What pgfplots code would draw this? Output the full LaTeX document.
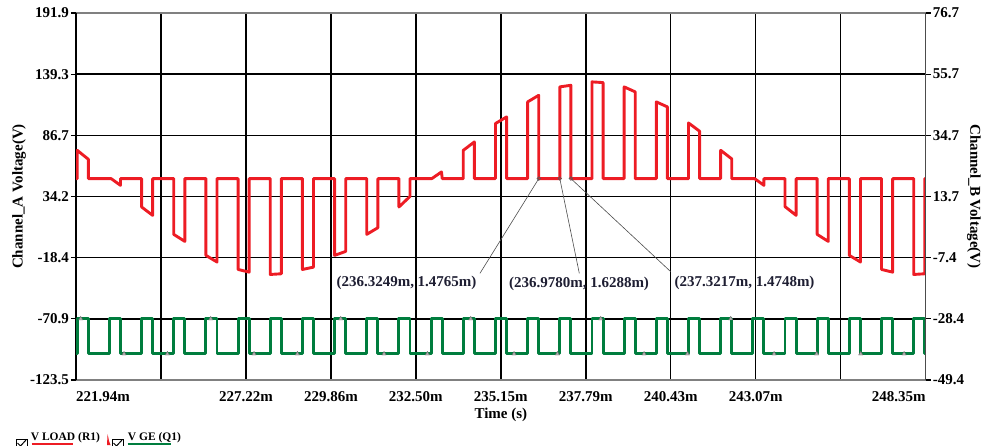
\documentclass[border=0pt]{standalone}
\usepackage{pgfplots}
\pgfplotsset{compat=1.18}
\usepackage{fontspec}
\setmainfont{Liberation Serif}
\definecolor{trred}{RGB}{237,28,36}
\definecolor{trgreen}{RGB}{0,125,62}
\definecolor{anno}{RGB}{30,30,50}
\newcommand{\lab}{\bfseries\fontsize{15}{18}\selectfont}
\newcommand{\leg}{\bfseries\fontsize{11.5}{13}\selectfont}
\begin{document}
\begin{tikzpicture}
\useasboundingbox (0,0) rectangle (982pt,445pt);
\begin{axis}[
  at={(76pt,65pt)}, anchor=south west,
  scale only axis, width=849.67pt, height=367pt,
  xmin=221.94, xmax=248.35, ymin=-123.5, ymax=191.9,
  separate axis lines,
  x axis line style={draw=gray, line width=1.6pt},
  y axis line style={draw=black, line width=1.5pt},
  grid=major, grid style={black, line width=1.4pt},
  xtick={221.94,224.581,227.222,229.863,232.504,235.145,237.786,240.427,243.068,245.709,248.35},
  xticklabels={{\makebox[0pt][l]{221.94m}},{},227.22m,229.86m,232.50m,235.15m,237.79m,240.43m,243.07m,{},{\makebox[0pt][r]{248.35m}}},
  ytick={-123.5,-70.933,-18.367,34.2,86.767,139.333,191.9},
  yticklabels={-123.5,-70.9,-18.4,34.2,86.7,139.3,191.9},
  xtick pos=bottom, ytick pos=left,
  tick align=outside, major tick length=5pt,
  xtick style={draw=none},
  ytick style={black, line width=1.2pt},
  tick label style={font=\lab, text=black},
  yticklabel style={inner sep=2pt},
  xticklabel style={inner sep=0pt, yshift=-6pt},
  xlabel={Time (s)}, ylabel={Channel\_A Voltage(V)},
  xlabel style={font=\lab, at={(axis description cs:0.5,-0.0954)}, anchor=center},
  ylabel style={font=\lab, at={(axis description cs:-0.0671,0.5)}, anchor=center},
]
% V GE (Q1)
\addplot[trgreen, line width=2.9pt, line join=round] coordinates {
(221.94,-101)
(221.978,-101)(221.978,-70.9)(222.323,-70.9)(222.323,-101)
(222.978,-101)(222.978,-70.9)(223.323,-70.9)(223.323,-101)
(223.978,-101)(223.978,-70.9)(224.323,-70.9)(224.323,-101)
(224.978,-101)(224.978,-70.9)(225.323,-70.9)(225.323,-101)
(225.978,-101)(225.978,-70.9)(226.323,-70.9)(226.323,-101)
(226.978,-101)(226.978,-70.9)(227.323,-70.9)(227.323,-101)
(227.978,-101)(227.978,-70.9)(228.323,-70.9)(228.323,-101)
(228.978,-101)(228.978,-70.9)(229.323,-70.9)(229.323,-101)
(229.978,-101)(229.978,-70.9)(230.323,-70.9)(230.323,-101)
(230.978,-101)(230.978,-70.9)(231.323,-70.9)(231.323,-101)
(231.978,-101)(231.978,-70.9)(232.323,-70.9)(232.323,-101)
(232.978,-101)(232.978,-70.9)(233.323,-70.9)(233.323,-101)
(233.978,-101)(233.978,-70.9)(234.323,-70.9)(234.323,-101)
(234.978,-101)(234.978,-70.9)(235.323,-70.9)(235.323,-101)
(235.978,-101)(235.978,-70.9)(236.323,-70.9)(236.323,-101)
(236.978,-101)(236.978,-70.9)(237.323,-70.9)(237.323,-101)
(237.978,-101)(237.978,-70.9)(238.323,-70.9)(238.323,-101)
(238.978,-101)(238.978,-70.9)(239.323,-70.9)(239.323,-101)
(239.978,-101)(239.978,-70.9)(240.323,-70.9)(240.323,-101)
(240.978,-101)(240.978,-70.9)(241.323,-70.9)(241.323,-101)
(241.978,-101)(241.978,-70.9)(242.323,-70.9)(242.323,-101)
(242.978,-101)(242.978,-70.9)(243.323,-70.9)(243.323,-101)
(243.978,-101)(243.978,-70.9)(244.323,-70.9)(244.323,-101)
(244.978,-101)(244.978,-70.9)(245.323,-70.9)(245.323,-101)
(245.978,-101)(245.978,-70.9)(246.323,-70.9)(246.323,-101)
(246.978,-101)(246.978,-70.9)(247.323,-70.9)(247.323,-101)
(247.978,-101)(247.978,-70.9)(248.323,-70.9)(248.323,-101)
(248.35,-101)
};
% sample markers on V GE
\addplot[only marks, mark=triangle*, mark size=2.4pt, draw=gray!80!black, fill=gray!60] coordinates {
(222.086,-70.9)(223.433,-101)(224.780,-101)(226.127,-70.9)(227.474,-101)
(228.821,-101)(230.168,-70.9)(231.515,-101)(232.862,-101)(234.209,-70.9)
(235.556,-101)(236.903,-101)(238.250,-70.9)(239.597,-101)(240.944,-101)
(242.291,-70.9)(243.638,-101)(244.960,-101)(246.332,-101)(247.679,-101)
};
% V LOAD (R1)
\addplot[trred, line width=2.9pt, line join=round] coordinates {
(221.94,49.6)
(221.978,49.6)(221.978,73.9)(222.323,66.2)(222.323,49.6)
(223.03,49.6)(223.323,43.8)(223.323,49.6)
(223.978,49.6)(223.978,25.2)(224.323,18.0)(224.323,49.6)
(224.978,49.6)(224.978,1.65)(225.323,-4.4)(225.323,49.6)
(225.978,49.6)(225.978,-16.4)(226.323,-22.1)(226.323,49.6)
(226.978,49.6)(226.978,-28.5)(227.323,-30.8)(227.323,49.6)
(227.978,49.6)(227.978,-32.8)(228.323,-32.2)(228.323,49.6)
(228.978,49.6)(228.978,-28.5)(229.323,-26.5)(229.323,49.6)
(229.978,49.6)(229.978,-16.4)(230.323,-13.0)(230.323,49.6)
(230.978,49.6)(230.978,1.65)(231.323,7.4)(231.323,49.6)
(231.978,49.6)(231.978,25.2)(232.323,34.3)(232.323,49.6)
(233.00,49.6)(233.30,55.3)(233.323,49.6)
(233.978,49.6)(233.978,73.9)(234.323,81.1)(234.323,49.6)
(234.978,49.6)(234.978,96.9)(235.323,102.6)(235.323,49.6)
(235.978,49.6)(235.978,115.5)(236.323,121.2)(236.323,49.6)
(236.978,49.6)(236.978,128.4)(237.323,129.8)(237.323,49.6)
(237.978,49.6)(237.978,132.7)(238.323,132.1)(238.323,49.6)
(238.978,49.6)(238.978,128.4)(239.323,124.1)(239.323,49.6)
(239.978,49.6)(239.978,115.5)(240.323,111.2)(240.323,49.6)
(240.978,49.6)(240.978,97.4)(241.323,90.3)(241.323,49.6)
(241.978,49.6)(241.978,73.9)(242.323,66.5)(242.323,49.6)
(243.03,49.6)(243.323,43.8)(243.323,49.6)
(243.978,49.6)(243.978,25.5)(244.323,18.0)(244.323,49.6)
(244.978,49.6)(244.978,1.65)(245.323,-4.4)(245.323,49.6)
(245.978,49.6)(245.978,-16.4)(246.323,-22.1)(246.323,49.6)
(246.978,49.6)(246.978,-28.5)(247.323,-30.8)(247.323,49.6)
(247.978,49.6)(247.978,-32.8)(248.323,-32.2)(248.323,49.6)
(248.35,49.6)
};
% cursor points
\addplot[only marks, mark=o, mark size=1.8pt, gray!70!black, line width=0.6pt] coordinates {
(236.3249,49.6)(236.9780,49.6)(237.3217,49.6)
};
\draw[gray!60!black, line width=0.6pt] (axis cs:236.3249,49.6) -- (axis cs:234.497,-31.8);
\draw[gray!60!black, line width=0.6pt] (axis cs:236.9780,49.6) -- (axis cs:237.584,-31.8);
\draw[gray!60!black, line width=0.6pt] (axis cs:237.3217,49.6) -- (axis cs:240.425,-30.4);
\node[font=\lab, text=anno, inner sep=0pt] at (axis cs:232.213,-40.4) {(236.3249m, 1.4765m)};
\node[font=\lab, text=anno, inner sep=0pt] at (axis cs:237.575,-41.0) {(236.9780m, 1.6288m)};
\node[font=\lab, text=anno, inner sep=0pt] at (axis cs:242.719,-40.1) {(237.3217m, 1.4748m)};
\end{axis}
\begin{axis}[
  at={(76pt,65pt)}, anchor=south west,
  scale only axis, width=849.67pt, height=367pt,
  xmin=221.94, xmax=248.35, ymin=-49.4, ymax=76.7,
  axis x line=none, axis y line*=right,
  axis line style={draw=gray!60!black, line width=1.5pt},
  ytick={-49.4,-28.383,-7.367,13.65,34.667,55.683,76.7},
  yticklabels={-49.4,-28.4,-7.4,13.7,34.7,55.7,76.7},
  tick align=outside, major tick length=5pt,
  ytick style={black, line width=1.2pt},
  yticklabel style={font=\lab, text=black, inner sep=2pt},
  ylabel={Channel\_B Voltage(V)},
  ylabel style={font=\lab, at={(axis description cs:1.0569,0.5)}, anchor=center, rotate=180},
]
\end{axis}
% legend
\draw[black, line width=0.9pt] (16pt,-4pt) -- (16pt,6pt) -- (27pt,6pt) -- (27pt,-4pt);
\draw[black, line width=1pt] (17.5pt,2pt) -- (20.5pt,-1pt) -- (26pt,5pt);
\node[anchor=base west, inner sep=0pt, font=\leg] at (30.7pt,5pt) {V LOAD (R1)};
\draw[trred, line width=1.6pt] (31.7pt,1pt) -- (73.3pt,1pt);
\fill[trred] (107pt,0pt) -- (107.6pt,11pt) -- (109pt,4pt) -- (110.5pt,0pt) -- cycle;
\draw[black, line width=0.9pt] (112pt,-4pt) -- (112pt,6pt) -- (123pt,6pt) -- (123pt,-4pt);
\draw[black, line width=1pt] (113.5pt,2pt) -- (116.5pt,-1pt) -- (122pt,5pt);
\node[anchor=base west, inner sep=0pt, font=\leg] at (127.7pt,5pt) {V GE (Q1)};
\draw[trgreen, line width=1.6pt] (127.7pt,1pt) -- (170.7pt,1pt);
\end{tikzpicture}
\end{document}
